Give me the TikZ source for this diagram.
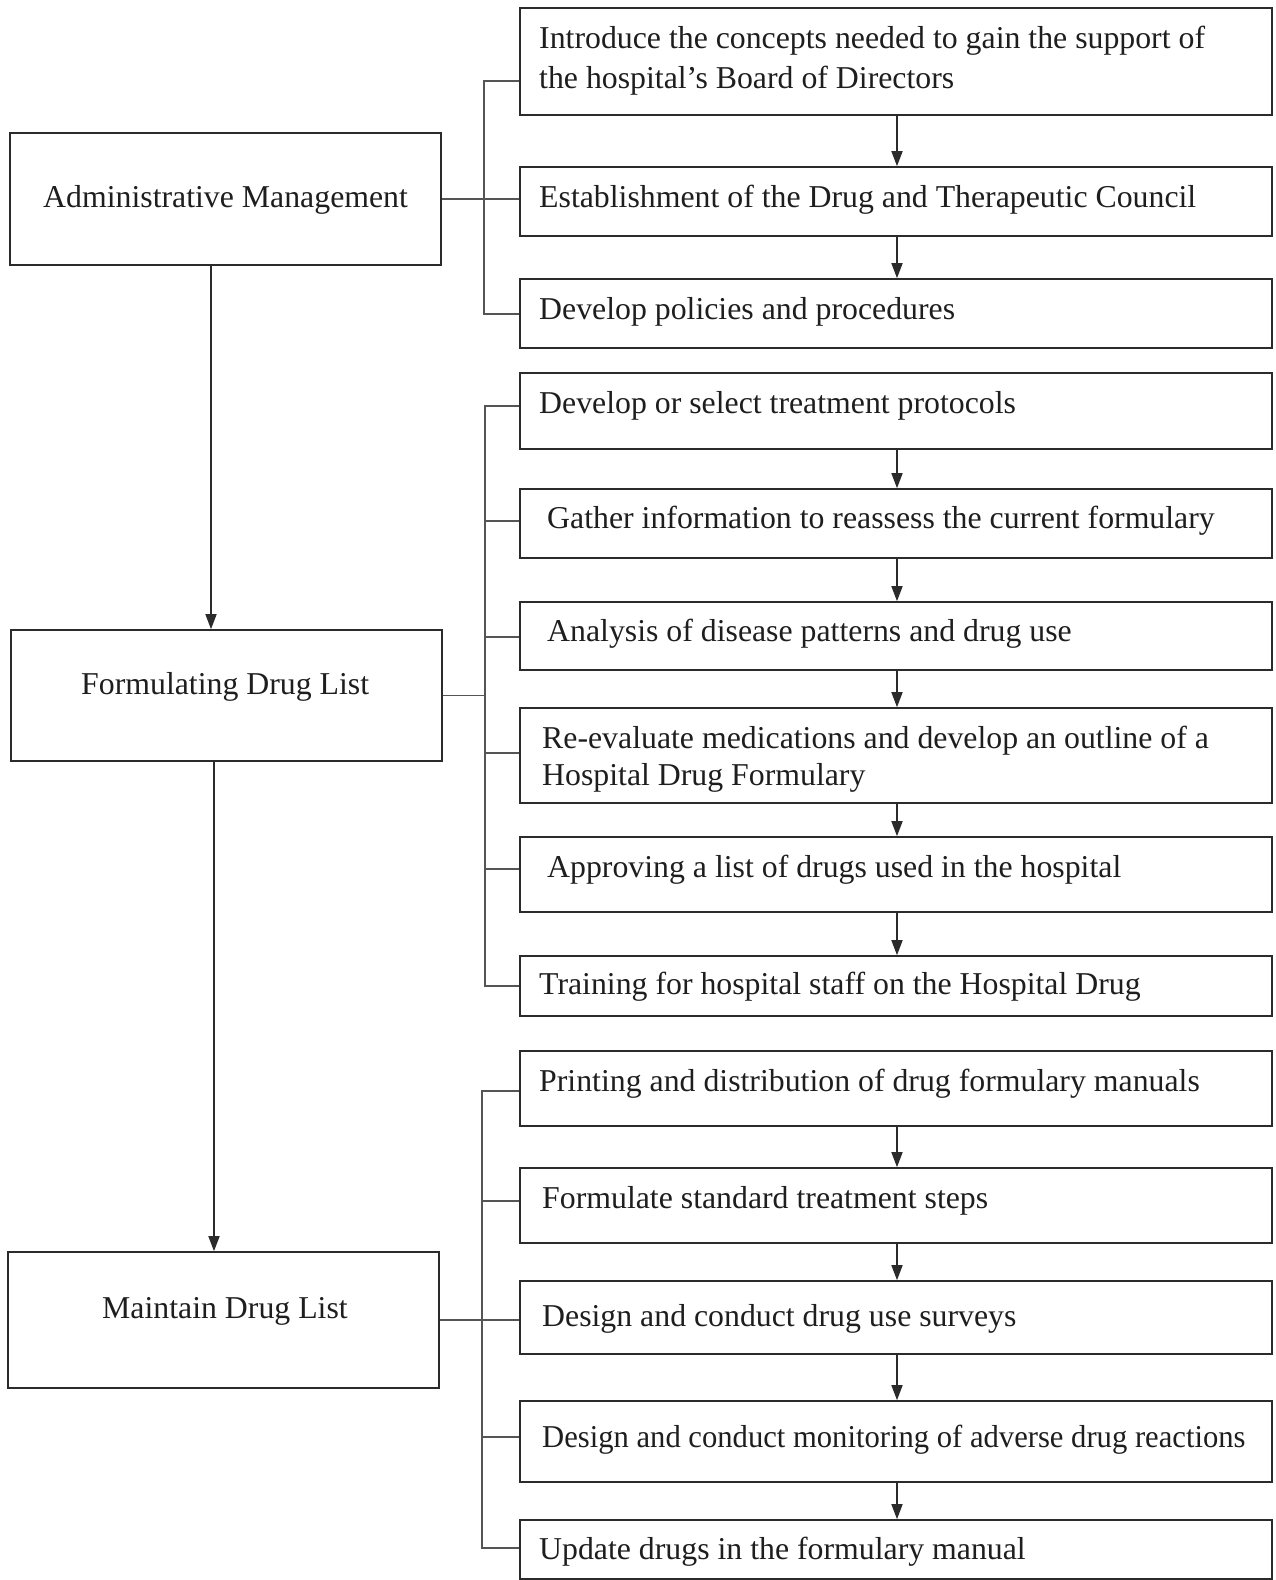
\documentclass[tikz,border=0pt]{standalone}
\usepackage{fontspec}
\usepackage{graphicx}
\setmainfont{Liberation Serif}[Ligatures=Common]
\usetikzlibrary{fit,arrows.meta}
\definecolor{ln}{HTML}{2B2B2B}
\definecolor{br}{HTML}{555555}
\definecolor{tx}{HTML}{1E1E1E}
\tikzset{
  boxa/.style={draw=ln, line width=1.6pt, inner sep=0pt, rectangle},
  lbl/.style={anchor=base west, inner sep=0pt, text=tx, font=\fontsize{31.8}{38}\selectfont},
  lblb/.style={anchor=base west, inner sep=0pt, text=tx, font=\fontsize{31.8}{38}\selectfont},
  brk/.style={draw=br, line width=1.3pt},
  arr/.style={draw=ln, line width=1.6pt, -{Triangle[length=15pt,width=11pt]}},
}
\begin{document}
\begin{tikzpicture}[x=1pt,y=-1pt]
\useasboundingbox (0,0) rectangle (1276,1580);
% left boxes
\node[boxa, fit={(10,133) (441,265)}] (adm) {};
\node[boxa, fit={(11,630) (442,761)}] (frm) {};
\node[boxa, fit={(8,1252) (439,1388)}] (mnt) {};
\node[lblb] (admt) at (43,207) {Administrative Management};
\node[lblb] (frmt) at (81,694) {Formulating Drug List};
\node[lblb] (mntt) at (102,1318) {Maintain Drug List};
% right boxes
\node[boxa, fit={(520,8) (1272,115)}] (r1) {};
\node[boxa, fit={(520,167) (1272,236)}] (r2) {};
\node[boxa, fit={(520,279) (1272,348)}] (r3) {};
\node[boxa, fit={(520,373) (1272,449)}] (f1) {};
\node[boxa, fit={(520,489) (1272,558)}] (f2) {};
\node[boxa, fit={(520,602) (1272,670)}] (f3) {};
\node[boxa, fit={(520,708) (1272,803)}] (f4) {};
\node[boxa, fit={(520,837) (1272,912)}] (f5) {};
\node[boxa, fit={(520,956) (1272,1016)}] (f6) {};
\node[boxa, fit={(520,1051) (1272,1126)}] (m1) {};
\node[boxa, fit={(520,1168) (1272,1243)}] (m2) {};
\node[boxa, fit={(520,1281) (1272,1354)}] (m3) {};
\node[boxa, fit={(520,1401) (1272,1482)}] (m4) {};
\node[boxa, fit={(520,1520) (1272,1579)}] (m5) {};
% right texts
\node[lbl] (r1a) at (539,48) {Introduce the concepts needed to gain the support of};
\node[lbl] (r1b) at (539,88) {the hospital's Board of Directors};
\node[lbl] (r2t) at (539,207) {Establishment of the Drug and Therapeutic Council};
\node[lbl] (r3t) at (539,319) {Develop policies and procedures};
\node[lbl] (f1t) at (539,413) {Develop or select treatment protocols};
\node[lbl] (f2t) at (547,528) {Gather information to reassess the current formulary};
\node[lbl] (f3t) at (547,641) {Analysis of disease patterns and drug use};
\node[lbl] (f4a) at (542,748) {Re-evaluate medications and develop an outline of a};
\node[lbl] (f4b) at (542,785) {Hospital Drug Formulary};
\node[lbl] (f5t) at (547,877) {Approving a list of drugs used in the hospital};
\node[lbl] (f6t) at (539,994) {Training for hospital staff on the Hospital Drug};
\node[lbl] (m1t) at (539,1091) {Printing and distribution of drug formulary manuals};
\node[lbl] (m2t) at (542,1208) {Formulate standard treatment steps};
\node[lbl] (m3t) at (542,1326) {Design and conduct drug use surveys};
\node[lbl] (m4t) at (542,1447) {\scalebox{0.963}[1]{Design and conduct monitoring of adverse drug reactions}};
\node[lbl] (m5t) at (539,1559) {Update drugs in the formulary manual};
% spines
\coordinate (sa) at (484,0);
\coordinate (sf) at (485,0);
\coordinate (sm) at (482,0);
% admin bracket
\draw[brk] (adm.east) -- (adm.east -| r2.west);
\draw[brk] (r1.west |- 0,81) -- (sa |- 0,81) -- (sa |- 0,314) -- (r3.west |- 0,314);
% formulating bracket
\draw[brk] (frm.east) -- (frm.east -| sf);
\draw[brk] (f1.west |- 0,406) -- (sf |- 0,406) -- (sf |- 0,986) -- (f6.west |- 0,986);
\foreach \b/\y in {f2/521,f3/637,f4/753,f5/869}{
  \draw[brk] (sf |- 0,\y) -- (\b.west |- 0,\y);
}
% maintain bracket
\draw[brk] (mnt.east) -- (mnt.east -| m3.west);
\draw[brk] (m1.west |- 0,1091) -- (sm |- 0,1091) -- (sm |- 0,1548) -- (m5.west |- 0,1548);
\foreach \b/\y in {m2/1201,m4/1437}{
  \draw[brk] (sm |- 0,\y) -- (\b.west |- 0,\y);
}
% left arrows
\draw[arr] (adm.south -| 211,0) -- (frm.north -| 211,0);
\draw[arr] (frm.south -| 214,0) -- (mnt.north -| 214,0);
% right arrows
\coordinate (ax) at (897,0);
\foreach \a/\b in {r1/r2,r2/r3,f1/f2,f2/f3,f3/f4,f4/f5,f5/f6,m1/m2,m2/m3,m3/m4,m4/m5}{
  \draw[arr] (\a.south -| ax) -- (\b.north -| ax);
}
\end{tikzpicture}
\end{document}
